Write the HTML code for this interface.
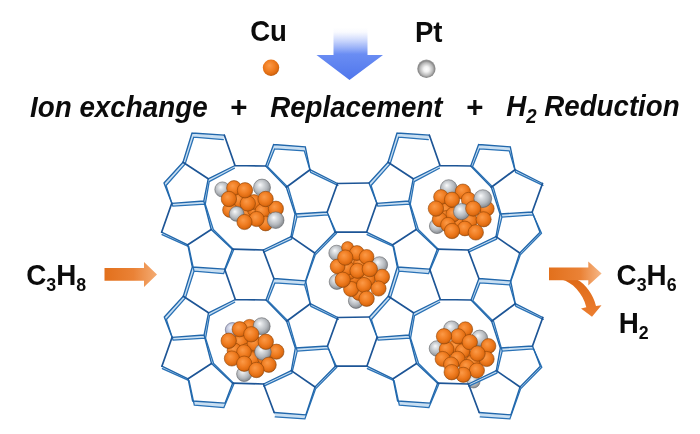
<!DOCTYPE html>
<html><head><meta charset="utf-8"><title>Cu-Pt zeolite scheme</title>
<style>
html,body{margin:0;padding:0;background:#fff;}
#wrap{position:relative;width:700px;height:434px;overflow:hidden;background:#fff;font-family:"Liberation Sans",Arial,sans-serif;color:#0a0a0a;}
svg{position:absolute;left:0;top:0;filter:blur(0.45px);}
.t{position:absolute;white-space:nowrap;font-weight:bold;line-height:1;margin:0;}
.i{font-style:italic;}
sub{font-size:0.65em;vertical-align:baseline;position:relative;top:0.28em;line-height:0;}
</style></head><body>
<div id="wrap">
<svg width="700" height="434" viewBox="0 0 700 434">
<defs>
<radialGradient id="go" cx="0.45" cy="0.42" r="0.6" fx="0.4" fy="0.36">
<stop offset="0" stop-color="#fb9a48"/><stop offset="0.5" stop-color="#f17f24"/><stop offset="0.8" stop-color="#e16d12"/><stop offset="0.93" stop-color="#c9600e"/><stop offset="1" stop-color="#a8520e"/>
</radialGradient>
<radialGradient id="gg" cx="0.45" cy="0.42" r="0.6" fx="0.38" fy="0.34">
<stop offset="0" stop-color="#fafafb"/><stop offset="0.25" stop-color="#dcdfe2"/><stop offset="0.65" stop-color="#b4b8bd"/><stop offset="0.92" stop-color="#8c9095"/><stop offset="1" stop-color="#6e7277"/>
</radialGradient>
<radialGradient id="gb" cx="0.45" cy="0.42" r="0.6" fx="0.38" fy="0.34">
<stop offset="0" stop-color="#eef0fa"/><stop offset="0.5" stop-color="#c4c8dc"/><stop offset="1" stop-color="#8488a8"/>
</radialGradient>
<radialGradient id="gp" cx="0.5" cy="0.52" r="0.5">
<stop offset="0" stop-color="#ffffff"/><stop offset="0.3" stop-color="#f2f2f2"/><stop offset="0.7" stop-color="#b9b9b9"/><stop offset="0.9" stop-color="#8a8a8a"/><stop offset="1" stop-color="#9a9a9a"/>
</radialGradient>
<linearGradient id="ga" x1="0" y1="0" x2="0" y2="1">
<stop offset="0" stop-color="#8fa8fa" stop-opacity="0"/><stop offset="0.08" stop-color="#8fa8fa" stop-opacity="0.05"/><stop offset="0.5" stop-color="#6a8df3" stop-opacity="1"/><stop offset="1" stop-color="#4f76ec"/>
</linearGradient>
<linearGradient id="gl" x1="0" y1="0" x2="1" y2="0">
<stop offset="0" stop-color="#e2701c"/><stop offset="0.55" stop-color="#ea8236"/><stop offset="1" stop-color="#f4ac74"/>
</linearGradient>
<linearGradient id="gr" x1="0" y1="0" x2="1" y2="0">
<stop offset="0" stop-color="#e2701c"/><stop offset="0.6" stop-color="#ea8236"/><stop offset="1" stop-color="#f6b888"/>
</linearGradient>
<linearGradient id="gc" x1="0" y1="0" x2="0" y2="1">
<stop offset="0" stop-color="#df6a18"/><stop offset="1" stop-color="#ec7e30"/>
</linearGradient>
</defs>
<!-- blue down arrow -->
<path d="M333.5 28 H367.5 V55 H383 L349.5 80 L316.5 55 H333.5 Z" fill="url(#ga)"/>
<!-- legend balls -->
<circle cx="271" cy="67.7" r="8.2" fill="url(#go)"/>
<circle cx="426.4" cy="68.8" r="9.2" fill="url(#gp)"/>
<!-- left arrow -->
<path d="M104.5 268 H144 V262 L157 274.5 L144 287 V280.8 H104.5 Z" fill="url(#gl)"/>
<!-- right arrows -->
<path d="M561.5 279.5 C572 282 583 293 586.3 307.3 L581 308.5 L592 316.8 L601.5 305.3 L596 306 C593 294 586 284.5 577 279.5 Z" fill="url(#gc)"/>
<path d="M549 267.4 H588.3 V261.6 L601.6 273.4 L588.3 285.5 V280.2 H549 Z" fill="url(#gr)"/>
<!-- clusters -->
<circle cx="239.0" cy="200.5" r="7.4" fill="url(#go)" stroke="#8a4206" stroke-opacity="0.62" stroke-width="0.9"/>
<circle cx="247.5" cy="212.5" r="7.4" fill="url(#go)" stroke="#8a4206" stroke-opacity="0.62" stroke-width="0.9"/>
<circle cx="255.0" cy="210.0" r="7.4" fill="url(#go)" stroke="#8a4206" stroke-opacity="0.62" stroke-width="0.9"/>
<circle cx="230.0" cy="210.0" r="7.4" fill="url(#go)" stroke="#8a4206" stroke-opacity="0.62" stroke-width="0.9"/>
<circle cx="254.0" cy="202.0" r="7.4" fill="url(#go)" stroke="#8a4206" stroke-opacity="0.62" stroke-width="0.9"/>
<circle cx="262.4" cy="211.3" r="7.4" fill="url(#go)" stroke="#8a4206" stroke-opacity="0.62" stroke-width="0.9"/>
<circle cx="222.4" cy="189.5" r="7.6" fill="url(#gg)" stroke="#5c5e62" stroke-opacity="0.62" stroke-width="0.9"/>
<circle cx="234.0" cy="188.0" r="7.4" fill="url(#go)" stroke="#8a4206" stroke-opacity="0.62" stroke-width="0.9"/>
<circle cx="262.0" cy="187.6" r="8.5" fill="url(#gg)" stroke="#5c5e62" stroke-opacity="0.62" stroke-width="0.9"/>
<circle cx="275.9" cy="208.7" r="7.6" fill="url(#go)" stroke="#8a4206" stroke-opacity="0.62" stroke-width="0.9"/>
<circle cx="265.6" cy="223.5" r="7.4" fill="url(#go)" stroke="#8a4206" stroke-opacity="0.62" stroke-width="0.9"/>
<circle cx="247.8" cy="203.5" r="7.7" fill="url(#go)" stroke="#8a4206" stroke-opacity="0.62" stroke-width="0.9"/>
<circle cx="245.0" cy="190.3" r="7.7" fill="url(#go)" stroke="#8a4206" stroke-opacity="0.62" stroke-width="0.9"/>
<circle cx="228.9" cy="199.0" r="7.7" fill="url(#go)" stroke="#8a4206" stroke-opacity="0.62" stroke-width="0.9"/>
<circle cx="265.6" cy="199.0" r="7.7" fill="url(#go)" stroke="#8a4206" stroke-opacity="0.62" stroke-width="0.9"/>
<circle cx="236.6" cy="213.9" r="7.4" fill="url(#gg)" stroke="#5c5e62" stroke-opacity="0.62" stroke-width="0.9"/>
<circle cx="256.6" cy="219.0" r="7.6" fill="url(#go)" stroke="#8a4206" stroke-opacity="0.62" stroke-width="0.9"/>
<circle cx="244.5" cy="222.0" r="7.6" fill="url(#go)" stroke="#8a4206" stroke-opacity="0.62" stroke-width="0.9"/>
<circle cx="275.7" cy="220.2" r="8.3" fill="url(#gg)" stroke="#5c5e62" stroke-opacity="0.62" stroke-width="0.9"/>
<circle cx="445.5" cy="210.3" r="7.4" fill="url(#go)" stroke="#8a4206" stroke-opacity="0.62" stroke-width="0.9"/>
<circle cx="457.5" cy="221.0" r="7.4" fill="url(#go)" stroke="#8a4206" stroke-opacity="0.62" stroke-width="0.9"/>
<circle cx="446.0" cy="218.0" r="7.4" fill="url(#go)" stroke="#8a4206" stroke-opacity="0.62" stroke-width="0.9"/>
<circle cx="437.0" cy="226.0" r="7.6" fill="url(#gg)" stroke="#5c5e62" stroke-opacity="0.62" stroke-width="0.9"/>
<circle cx="453.3" cy="214.4" r="7.4" fill="url(#go)" stroke="#8a4206" stroke-opacity="0.62" stroke-width="0.9"/>
<circle cx="470.0" cy="220.8" r="7.4" fill="url(#go)" stroke="#8a4206" stroke-opacity="0.62" stroke-width="0.9"/>
<circle cx="486.8" cy="208.7" r="7.4" fill="url(#go)" stroke="#8a4206" stroke-opacity="0.62" stroke-width="0.9"/>
<circle cx="448.7" cy="188.0" r="8.3" fill="url(#gg)" stroke="#5c5e62" stroke-opacity="0.62" stroke-width="0.9"/>
<circle cx="462.9" cy="191.6" r="7.6" fill="url(#go)" stroke="#8a4206" stroke-opacity="0.62" stroke-width="0.9"/>
<circle cx="441.0" cy="197.0" r="7.4" fill="url(#go)" stroke="#8a4206" stroke-opacity="0.62" stroke-width="0.9"/>
<circle cx="468.7" cy="199.7" r="7.4" fill="url(#go)" stroke="#8a4206" stroke-opacity="0.62" stroke-width="0.9"/>
<circle cx="482.8" cy="198.6" r="8.9" fill="url(#gg)" stroke="#5c5e62" stroke-opacity="0.62" stroke-width="0.9"/>
<circle cx="452.0" cy="199.7" r="7.6" fill="url(#go)" stroke="#8a4206" stroke-opacity="0.62" stroke-width="0.9"/>
<circle cx="439.7" cy="219.5" r="7.4" fill="url(#go)" stroke="#8a4206" stroke-opacity="0.62" stroke-width="0.9"/>
<circle cx="448.0" cy="224.7" r="7.4" fill="url(#go)" stroke="#8a4206" stroke-opacity="0.62" stroke-width="0.9"/>
<circle cx="464.9" cy="228.5" r="7.4" fill="url(#go)" stroke="#8a4206" stroke-opacity="0.62" stroke-width="0.9"/>
<circle cx="483.6" cy="219.3" r="7.6" fill="url(#go)" stroke="#8a4206" stroke-opacity="0.62" stroke-width="0.9"/>
<circle cx="461.6" cy="211.6" r="8.1" fill="url(#gg)" stroke="#5c5e62" stroke-opacity="0.62" stroke-width="0.9"/>
<circle cx="473.2" cy="208.6" r="7.6" fill="url(#go)" stroke="#8a4206" stroke-opacity="0.62" stroke-width="0.9"/>
<circle cx="435.9" cy="208.6" r="7.7" fill="url(#go)" stroke="#8a4206" stroke-opacity="0.62" stroke-width="0.9"/>
<circle cx="452.0" cy="231.0" r="7.7" fill="url(#go)" stroke="#8a4206" stroke-opacity="0.62" stroke-width="0.9"/>
<circle cx="475.8" cy="232.4" r="7.7" fill="url(#go)" stroke="#8a4206" stroke-opacity="0.62" stroke-width="0.9"/>
<circle cx="336.6" cy="253.0" r="7.8" fill="url(#gg)" stroke="#5c5e62" stroke-opacity="0.62" stroke-width="0.9"/>
<circle cx="347.6" cy="247.6" r="6.0" fill="url(#go)" stroke="#8a4206" stroke-opacity="0.62" stroke-width="0.9"/>
<circle cx="336.8" cy="281.8" r="7.6" fill="url(#gg)" stroke="#5c5e62" stroke-opacity="0.62" stroke-width="0.9"/>
<circle cx="356.0" cy="300.8" r="7.6" fill="url(#gg)" stroke="#5c5e62" stroke-opacity="0.62" stroke-width="0.9"/>
<circle cx="353.7" cy="276.8" r="7.4" fill="url(#go)" stroke="#8a4206" stroke-opacity="0.62" stroke-width="0.9"/>
<circle cx="349.5" cy="272.0" r="7.4" fill="url(#go)" stroke="#8a4206" stroke-opacity="0.62" stroke-width="0.9"/>
<circle cx="353.0" cy="262.0" r="7.4" fill="url(#go)" stroke="#8a4206" stroke-opacity="0.62" stroke-width="0.9"/>
<circle cx="361.0" cy="263.0" r="7.4" fill="url(#go)" stroke="#8a4206" stroke-opacity="0.62" stroke-width="0.9"/>
<circle cx="368.0" cy="279.0" r="7.4" fill="url(#go)" stroke="#8a4206" stroke-opacity="0.62" stroke-width="0.9"/>
<circle cx="359.0" cy="293.0" r="7.4" fill="url(#go)" stroke="#8a4206" stroke-opacity="0.62" stroke-width="0.9"/>
<circle cx="347.0" cy="268.0" r="7.4" fill="url(#go)" stroke="#8a4206" stroke-opacity="0.62" stroke-width="0.9"/>
<circle cx="379.5" cy="264.8" r="8.1" fill="url(#gg)" stroke="#5c5e62" stroke-opacity="0.62" stroke-width="0.9"/>
<circle cx="356.9" cy="253.0" r="7.4" fill="url(#go)" stroke="#8a4206" stroke-opacity="0.62" stroke-width="0.9"/>
<circle cx="366.6" cy="256.9" r="7.4" fill="url(#go)" stroke="#8a4206" stroke-opacity="0.62" stroke-width="0.9"/>
<circle cx="337.6" cy="266.5" r="7.4" fill="url(#go)" stroke="#8a4206" stroke-opacity="0.62" stroke-width="0.9"/>
<circle cx="357.5" cy="270.8" r="7.6" fill="url(#go)" stroke="#8a4206" stroke-opacity="0.62" stroke-width="0.9"/>
<circle cx="382.0" cy="276.8" r="7.6" fill="url(#go)" stroke="#8a4206" stroke-opacity="0.62" stroke-width="0.9"/>
<circle cx="351.1" cy="289.0" r="7.6" fill="url(#go)" stroke="#8a4206" stroke-opacity="0.62" stroke-width="0.9"/>
<circle cx="364.0" cy="285.0" r="7.6" fill="url(#go)" stroke="#8a4206" stroke-opacity="0.62" stroke-width="0.9"/>
<circle cx="378.5" cy="288.5" r="7.6" fill="url(#go)" stroke="#8a4206" stroke-opacity="0.62" stroke-width="0.9"/>
<circle cx="345.3" cy="257.6" r="7.7" fill="url(#go)" stroke="#8a4206" stroke-opacity="0.62" stroke-width="0.9"/>
<circle cx="369.8" cy="269.1" r="7.7" fill="url(#go)" stroke="#8a4206" stroke-opacity="0.62" stroke-width="0.9"/>
<circle cx="342.7" cy="279.8" r="7.7" fill="url(#go)" stroke="#8a4206" stroke-opacity="0.62" stroke-width="0.9"/>
<circle cx="366.6" cy="298.7" r="7.7" fill="url(#go)" stroke="#8a4206" stroke-opacity="0.62" stroke-width="0.9"/>
<circle cx="232.5" cy="329.8" r="7.2" fill="url(#gb)" stroke="#55597a" stroke-opacity="0.62" stroke-width="0.9"/>
<circle cx="244.2" cy="374.0" r="7.6" fill="url(#gg)" stroke="#5c5e62" stroke-opacity="0.62" stroke-width="0.9"/>
<circle cx="249.6" cy="326.8" r="7.4" fill="url(#go)" stroke="#8a4206" stroke-opacity="0.62" stroke-width="0.9"/>
<circle cx="240.3" cy="342.0" r="7.4" fill="url(#go)" stroke="#8a4206" stroke-opacity="0.62" stroke-width="0.9"/>
<circle cx="247.4" cy="350.7" r="7.4" fill="url(#go)" stroke="#8a4206" stroke-opacity="0.62" stroke-width="0.9"/>
<circle cx="234.5" cy="350.5" r="7.4" fill="url(#go)" stroke="#8a4206" stroke-opacity="0.62" stroke-width="0.9"/>
<circle cx="254.5" cy="343.5" r="7.4" fill="url(#go)" stroke="#8a4206" stroke-opacity="0.62" stroke-width="0.9"/>
<circle cx="252.0" cy="359.0" r="7.4" fill="url(#go)" stroke="#8a4206" stroke-opacity="0.62" stroke-width="0.9"/>
<circle cx="265.0" cy="358.0" r="7.4" fill="url(#go)" stroke="#8a4206" stroke-opacity="0.62" stroke-width="0.9"/>
<circle cx="244.0" cy="352.0" r="7.4" fill="url(#go)" stroke="#8a4206" stroke-opacity="0.62" stroke-width="0.9"/>
<circle cx="261.7" cy="326.2" r="8.5" fill="url(#gg)" stroke="#5c5e62" stroke-opacity="0.62" stroke-width="0.9"/>
<circle cx="239.7" cy="329.2" r="7.6" fill="url(#go)" stroke="#8a4206" stroke-opacity="0.62" stroke-width="0.9"/>
<circle cx="276.4" cy="351.7" r="7.6" fill="url(#go)" stroke="#8a4206" stroke-opacity="0.62" stroke-width="0.9"/>
<circle cx="262.9" cy="352.0" r="8.3" fill="url(#gg)" stroke="#5c5e62" stroke-opacity="0.62" stroke-width="0.9"/>
<circle cx="251.3" cy="334.3" r="7.7" fill="url(#go)" stroke="#8a4206" stroke-opacity="0.62" stroke-width="0.9"/>
<circle cx="228.7" cy="340.8" r="7.7" fill="url(#go)" stroke="#8a4206" stroke-opacity="0.62" stroke-width="0.9"/>
<circle cx="265.8" cy="341.8" r="7.7" fill="url(#go)" stroke="#8a4206" stroke-opacity="0.62" stroke-width="0.9"/>
<circle cx="231.9" cy="358.5" r="7.6" fill="url(#go)" stroke="#8a4206" stroke-opacity="0.62" stroke-width="0.9"/>
<circle cx="268.7" cy="364.8" r="7.6" fill="url(#go)" stroke="#8a4206" stroke-opacity="0.62" stroke-width="0.9"/>
<circle cx="244.2" cy="363.7" r="7.7" fill="url(#go)" stroke="#8a4206" stroke-opacity="0.62" stroke-width="0.9"/>
<circle cx="256.4" cy="370.0" r="7.7" fill="url(#go)" stroke="#8a4206" stroke-opacity="0.62" stroke-width="0.9"/>
<circle cx="473.5" cy="381.5" r="6.5" fill="url(#gg)" stroke="#5c5e62" stroke-opacity="0.62" stroke-width="0.9"/>
<circle cx="451.7" cy="329.0" r="8.1" fill="url(#gg)" stroke="#5c5e62" stroke-opacity="0.62" stroke-width="0.9"/>
<circle cx="479.6" cy="338.2" r="8.1" fill="url(#gg)" stroke="#5c5e62" stroke-opacity="0.62" stroke-width="0.9"/>
<circle cx="437.0" cy="348.5" r="7.8" fill="url(#gg)" stroke="#5c5e62" stroke-opacity="0.62" stroke-width="0.9"/>
<circle cx="456.0" cy="346.5" r="7.4" fill="url(#go)" stroke="#8a4206" stroke-opacity="0.62" stroke-width="0.9"/>
<circle cx="468.0" cy="358.5" r="7.4" fill="url(#go)" stroke="#8a4206" stroke-opacity="0.62" stroke-width="0.9"/>
<circle cx="473.0" cy="362.0" r="7.4" fill="url(#go)" stroke="#8a4206" stroke-opacity="0.62" stroke-width="0.9"/>
<circle cx="465.3" cy="329.2" r="7.4" fill="url(#go)" stroke="#8a4206" stroke-opacity="0.62" stroke-width="0.9"/>
<circle cx="458.2" cy="336.3" r="7.6" fill="url(#go)" stroke="#8a4206" stroke-opacity="0.62" stroke-width="0.9"/>
<circle cx="488.5" cy="346.0" r="7.4" fill="url(#go)" stroke="#8a4206" stroke-opacity="0.62" stroke-width="0.9"/>
<circle cx="446.6" cy="349.2" r="7.4" fill="url(#go)" stroke="#8a4206" stroke-opacity="0.62" stroke-width="0.9"/>
<circle cx="462.7" cy="351.1" r="7.4" fill="url(#go)" stroke="#8a4206" stroke-opacity="0.62" stroke-width="0.9"/>
<circle cx="444.0" cy="336.3" r="7.7" fill="url(#go)" stroke="#8a4206" stroke-opacity="0.62" stroke-width="0.9"/>
<circle cx="469.8" cy="342.1" r="7.7" fill="url(#go)" stroke="#8a4206" stroke-opacity="0.62" stroke-width="0.9"/>
<circle cx="486.6" cy="359.0" r="7.6" fill="url(#go)" stroke="#8a4206" stroke-opacity="0.62" stroke-width="0.9"/>
<circle cx="442.7" cy="359.0" r="7.6" fill="url(#go)" stroke="#8a4206" stroke-opacity="0.62" stroke-width="0.9"/>
<circle cx="457.5" cy="358.8" r="7.6" fill="url(#go)" stroke="#8a4206" stroke-opacity="0.62" stroke-width="0.9"/>
<circle cx="477.5" cy="353.6" r="7.7" fill="url(#go)" stroke="#8a4206" stroke-opacity="0.62" stroke-width="0.9"/>
<circle cx="451.1" cy="364.5" r="7.6" fill="url(#go)" stroke="#8a4206" stroke-opacity="0.62" stroke-width="0.9"/>
<circle cx="467.0" cy="367.0" r="7.6" fill="url(#go)" stroke="#8a4206" stroke-opacity="0.62" stroke-width="0.9"/>
<circle cx="476.9" cy="370.5" r="7.6" fill="url(#go)" stroke="#8a4206" stroke-opacity="0.62" stroke-width="0.9"/>
<circle cx="463.3" cy="374.8" r="7.6" fill="url(#go)" stroke="#8a4206" stroke-opacity="0.62" stroke-width="0.9"/>
<circle cx="451.7" cy="372.2" r="7.7" fill="url(#go)" stroke="#8a4206" stroke-opacity="0.62" stroke-width="0.9"/>
<!-- framework -->
<path d="M192.0 133.0L224.4 135.2L223.3 139.6L193.7 137.2ZM235.0 165.5L208.2 178.8L209.2 181.6L234.4 168.2ZM183.0 162.2L192.0 133.0L193.7 137.2L185.1 164.1ZM208.2 178.8L203.8 201.0L205.3 204.1L209.2 181.6ZM203.8 201.0L171.8 203.3L172.8 206.1L205.3 204.1ZM171.8 203.3L164.0 183.0L166.1 185.5L172.8 206.1ZM164.0 183.0L183.0 162.2L185.1 164.1L166.1 185.5ZM265.7 166.0L273.6 144.5L274.6 148.9L267.6 166.6ZM273.6 144.5L305.3 146.8L304.3 150.9L274.6 148.9ZM305.3 146.8L310.0 169.7L310.6 172.4L304.3 150.9ZM286.3 187.2L265.7 166.0L267.6 166.6L288.4 187.6ZM310.0 169.7L337.5 183.5L337.9 185.4L310.6 172.4ZM286.3 187.2L295.0 214.0L296.9 217.1L288.4 187.6ZM295.0 214.0L327.2 212.0L328.2 214.8L296.9 217.1ZM327.2 212.0L335.0 232.2L336.5 233.2L328.2 214.8ZM335.0 232.2L314.7 253.0L315.3 254.9L336.5 233.2ZM291.0 236.6L295.0 214.0L296.9 217.1L291.6 239.1ZM203.8 201.0L211.2 229.5L213.3 229.5L205.3 204.1ZM187.8 244.8L161.6 232.2L162.0 234.7L188.8 246.7ZM211.2 229.5L232.3 249.2L233.8 249.6L213.3 229.5ZM263.2 250.0L291.0 236.6L291.6 239.1L263.6 252.2ZM314.7 253.0L305.6 280.8L304.6 284.9L315.3 254.9ZM187.8 244.8L192.3 267.0L194.0 271.2L188.8 246.7ZM232.3 249.2L224.7 269.2L223.6 273.6L233.8 249.6ZM192.3 267.0L224.7 269.2L223.6 273.6L194.0 271.2ZM235.3 299.5L208.5 312.8L209.5 315.6L234.7 302.2ZM183.3 296.2L192.3 267.0L194.0 271.2L185.4 298.1ZM208.5 312.8L204.1 335.0L205.6 338.1L209.5 315.6ZM204.1 335.0L172.1 337.3L173.1 340.1L205.6 338.1ZM172.1 337.3L164.3 317.0L166.4 319.5L173.1 340.1ZM164.3 317.0L183.3 296.2L185.4 298.1L166.4 319.5ZM266.0 300.0L273.9 278.5L274.9 282.9L267.9 300.6ZM273.9 278.5L305.6 280.8L304.6 284.9L274.9 282.9ZM305.6 280.8L310.3 303.7L310.9 306.4L304.6 284.9ZM286.6 321.2L266.0 300.0L267.9 300.6L288.7 321.6ZM310.3 303.7L337.8 317.5L338.2 319.4L310.9 306.4ZM286.6 321.2L295.3 348.0L297.2 351.1L288.7 321.6ZM295.3 348.0L327.5 346.0L328.5 348.8L297.2 351.1ZM327.5 346.0L335.3 366.2L336.8 367.2L328.5 348.8ZM335.3 366.2L315.0 387.0L315.6 388.9L336.8 367.2ZM291.3 370.6L295.3 348.0L297.2 351.1L291.9 373.1ZM204.1 335.0L211.5 363.5L213.6 363.5L205.6 338.1ZM188.1 378.8L161.9 366.2L162.3 368.7L189.1 380.7ZM211.5 363.5L232.6 383.2L234.1 383.6L213.6 363.5ZM263.5 384.0L291.3 370.6L291.9 373.1L263.9 386.2ZM315.0 387.0L305.9 414.8L304.9 418.9L315.6 388.9ZM188.1 378.8L192.6 401.0L194.3 405.2L189.1 380.7ZM232.6 383.2L225.0 403.2L223.9 407.6L234.1 383.6ZM192.6 401.0L225.0 403.2L223.9 407.6L194.3 405.2ZM274.2 412.5L305.9 414.8L304.9 418.9L275.2 416.9ZM397.0 133.0L429.4 135.2L428.3 139.6L398.7 137.2ZM440.0 165.5L413.2 178.8L414.2 181.6L439.4 168.2ZM388.0 162.2L397.0 133.0L398.7 137.2L390.1 164.1ZM413.2 178.8L408.8 201.0L410.3 204.1L414.2 181.6ZM408.8 201.0L376.8 203.3L377.8 206.1L410.3 204.1ZM376.8 203.3L369.0 183.0L371.1 185.5L377.8 206.1ZM369.0 183.0L388.0 162.2L390.1 164.1L371.1 185.5ZM470.7 166.0L478.6 144.5L479.6 148.9L472.6 166.6ZM478.6 144.5L510.3 146.8L509.3 150.9L479.6 148.9ZM510.3 146.8L515.0 169.7L515.6 172.4L509.3 150.9ZM491.3 187.2L470.7 166.0L472.6 166.6L493.4 187.6ZM515.0 169.7L542.5 183.5L542.9 185.4L515.6 172.4ZM491.3 187.2L500.0 214.0L501.9 217.1L493.4 187.6ZM500.0 214.0L532.2 212.0L533.2 214.8L501.9 217.1ZM532.2 212.0L540.0 232.2L541.5 233.2L533.2 214.8ZM540.0 232.2L519.7 253.0L520.3 254.9L541.5 233.2ZM496.0 236.6L500.0 214.0L501.9 217.1L496.6 239.1ZM408.8 201.0L416.2 229.5L418.3 229.5L410.3 204.1ZM392.8 244.8L366.6 232.2L367.0 234.7L393.8 246.7ZM416.2 229.5L437.3 249.2L438.8 249.6L418.3 229.5ZM468.2 250.0L496.0 236.6L496.6 239.1L468.6 252.2ZM519.7 253.0L510.6 280.8L509.6 284.9L520.3 254.9ZM392.8 244.8L397.3 267.0L399.0 271.2L393.8 246.7ZM437.3 249.2L429.7 269.2L428.6 273.6L438.8 249.6ZM397.3 267.0L429.7 269.2L428.6 273.6L399.0 271.2ZM440.3 299.5L413.5 312.8L414.5 315.6L439.7 302.2ZM388.3 296.2L397.3 267.0L399.0 271.2L390.4 298.1ZM413.5 312.8L409.1 335.0L410.6 338.1L414.5 315.6ZM409.1 335.0L377.1 337.3L378.1 340.1L410.6 338.1ZM377.1 337.3L369.3 317.0L371.4 319.5L378.1 340.1ZM369.3 317.0L388.3 296.2L390.4 298.1L371.4 319.5ZM471.0 300.0L478.9 278.5L479.9 282.9L472.9 300.6ZM478.9 278.5L510.6 280.8L509.6 284.9L479.9 282.9ZM510.6 280.8L515.3 303.7L515.9 306.4L509.6 284.9ZM491.6 321.2L471.0 300.0L472.9 300.6L493.7 321.6ZM515.3 303.7L542.8 317.5L543.2 319.4L515.9 306.4ZM491.6 321.2L500.3 348.0L502.2 351.1L493.7 321.6ZM500.3 348.0L532.5 346.0L533.5 348.8L502.2 351.1ZM532.5 346.0L540.3 366.2L541.8 367.2L533.5 348.8ZM540.3 366.2L520.0 387.0L520.6 388.9L541.8 367.2ZM496.3 370.6L500.3 348.0L502.2 351.1L496.9 373.1ZM409.1 335.0L416.5 363.5L418.6 363.5L410.6 338.1ZM393.1 378.8L366.9 366.2L367.3 368.7L394.1 380.7ZM416.5 363.5L437.6 383.2L439.1 383.6L418.6 363.5ZM468.5 384.0L496.3 370.6L496.9 373.1L468.9 386.2ZM520.0 387.0L510.9 414.8L509.9 418.9L520.6 388.9ZM393.1 378.8L397.6 401.0L399.3 405.2L394.1 380.7ZM437.6 383.2L430.0 403.2L428.9 407.6L439.1 383.6ZM397.6 401.0L430.0 403.2L428.9 407.6L399.3 405.2ZM479.2 412.5L510.9 414.8L509.9 418.9L480.2 416.9Z" fill="#c9dff2" stroke="none"/>
<g fill="none" stroke-linecap="round">
<path d="M193.7 137.2L223.3 139.6M234.4 168.2L209.2 181.6M185.1 164.1L193.7 137.2M209.2 181.6L205.3 204.1M205.3 204.1L172.8 206.1M172.8 206.1L166.1 185.5M166.1 185.5L185.1 164.1M267.6 166.6L274.6 148.9M274.6 148.9L304.3 150.9M304.3 150.9L310.6 172.4M288.4 187.6L267.6 166.6M310.6 172.4L337.9 185.4M288.4 187.6L296.9 217.1M296.9 217.1L328.2 214.8M328.2 214.8L336.5 233.2M336.5 233.2L315.3 254.9M291.6 239.1L296.9 217.1M205.3 204.1L213.3 229.5M188.8 246.7L162.0 234.7M213.3 229.5L233.8 249.6M263.6 252.2L291.6 239.1M315.3 254.9L304.6 284.9M188.8 246.7L194.0 271.2M233.8 249.6L223.6 273.6M194.0 271.2L223.6 273.6M234.7 302.2L209.5 315.6M185.4 298.1L194.0 271.2M209.5 315.6L205.6 338.1M205.6 338.1L173.1 340.1M173.1 340.1L166.4 319.5M166.4 319.5L185.4 298.1M267.9 300.6L274.9 282.9M274.9 282.9L304.6 284.9M304.6 284.9L310.9 306.4M288.7 321.6L267.9 300.6M310.9 306.4L338.2 319.4M288.7 321.6L297.2 351.1M297.2 351.1L328.5 348.8M328.5 348.8L336.8 367.2M336.8 367.2L315.6 388.9M291.9 373.1L297.2 351.1M205.6 338.1L213.6 363.5M189.1 380.7L162.3 368.7M213.6 363.5L234.1 383.6M263.9 386.2L291.9 373.1M315.6 388.9L304.9 418.9M189.1 380.7L194.3 405.2M234.1 383.6L223.9 407.6M194.3 405.2L223.9 407.6M275.2 416.9L304.9 418.9M398.7 137.2L428.3 139.6M439.4 168.2L414.2 181.6M390.1 164.1L398.7 137.2M414.2 181.6L410.3 204.1M410.3 204.1L377.8 206.1M377.8 206.1L371.1 185.5M371.1 185.5L390.1 164.1M472.6 166.6L479.6 148.9M479.6 148.9L509.3 150.9M509.3 150.9L515.6 172.4M493.4 187.6L472.6 166.6M515.6 172.4L542.9 185.4M493.4 187.6L501.9 217.1M501.9 217.1L533.2 214.8M533.2 214.8L541.5 233.2M541.5 233.2L520.3 254.9M496.6 239.1L501.9 217.1M410.3 204.1L418.3 229.5M393.8 246.7L367.0 234.7M418.3 229.5L438.8 249.6M468.6 252.2L496.6 239.1M520.3 254.9L509.6 284.9M393.8 246.7L399.0 271.2M438.8 249.6L428.6 273.6M399.0 271.2L428.6 273.6M439.7 302.2L414.5 315.6M390.4 298.1L399.0 271.2M414.5 315.6L410.6 338.1M410.6 338.1L378.1 340.1M378.1 340.1L371.4 319.5M371.4 319.5L390.4 298.1M472.9 300.6L479.9 282.9M479.9 282.9L509.6 284.9M509.6 284.9L515.9 306.4M493.7 321.6L472.9 300.6M515.9 306.4L543.2 319.4M493.7 321.6L502.2 351.1M502.2 351.1L533.5 348.8M533.5 348.8L541.8 367.2M541.8 367.2L520.6 388.9M496.9 373.1L502.2 351.1M410.6 338.1L418.6 363.5M394.1 380.7L367.3 368.7M418.6 363.5L439.1 383.6M468.9 386.2L496.9 373.1M520.6 388.9L509.9 418.9M394.1 380.7L399.3 405.2M439.1 383.6L428.9 407.6M399.3 405.2L428.9 407.6M480.2 416.9L509.9 418.9" stroke="#2a72b6" stroke-width="1.3"/>
<path d="M192.0 133.0L224.4 135.2M235.0 165.5L208.2 178.8M183.0 162.2L192.0 133.0M208.2 178.8L203.8 201.0M203.8 201.0L171.8 203.3M171.8 203.3L164.0 183.0M164.0 183.0L183.0 162.2M265.7 166.0L273.6 144.5M273.6 144.5L305.3 146.8M305.3 146.8L310.0 169.7M286.3 187.2L265.7 166.0M310.0 169.7L337.5 183.5M286.3 187.2L295.0 214.0M295.0 214.0L327.2 212.0M327.2 212.0L335.0 232.2M335.0 232.2L314.7 253.0M291.0 236.6L295.0 214.0M203.8 201.0L211.2 229.5M187.8 244.8L161.6 232.2M211.2 229.5L232.3 249.2M263.2 250.0L291.0 236.6M314.7 253.0L305.6 280.8M187.8 244.8L192.3 267.0M232.3 249.2L224.7 269.2M192.3 267.0L224.7 269.2M235.3 299.5L208.5 312.8M183.3 296.2L192.3 267.0M208.5 312.8L204.1 335.0M204.1 335.0L172.1 337.3M172.1 337.3L164.3 317.0M164.3 317.0L183.3 296.2M266.0 300.0L273.9 278.5M273.9 278.5L305.6 280.8M305.6 280.8L310.3 303.7M286.6 321.2L266.0 300.0M310.3 303.7L337.8 317.5M286.6 321.2L295.3 348.0M295.3 348.0L327.5 346.0M327.5 346.0L335.3 366.2M335.3 366.2L315.0 387.0M291.3 370.6L295.3 348.0M204.1 335.0L211.5 363.5M188.1 378.8L161.9 366.2M211.5 363.5L232.6 383.2M263.5 384.0L291.3 370.6M315.0 387.0L305.9 414.8M188.1 378.8L192.6 401.0M232.6 383.2L225.0 403.2M192.6 401.0L225.0 403.2M274.2 412.5L305.9 414.8M397.0 133.0L429.4 135.2M440.0 165.5L413.2 178.8M388.0 162.2L397.0 133.0M413.2 178.8L408.8 201.0M408.8 201.0L376.8 203.3M376.8 203.3L369.0 183.0M369.0 183.0L388.0 162.2M470.7 166.0L478.6 144.5M478.6 144.5L510.3 146.8M510.3 146.8L515.0 169.7M491.3 187.2L470.7 166.0M515.0 169.7L542.5 183.5M491.3 187.2L500.0 214.0M500.0 214.0L532.2 212.0M532.2 212.0L540.0 232.2M540.0 232.2L519.7 253.0M496.0 236.6L500.0 214.0M408.8 201.0L416.2 229.5M392.8 244.8L366.6 232.2M416.2 229.5L437.3 249.2M468.2 250.0L496.0 236.6M519.7 253.0L510.6 280.8M392.8 244.8L397.3 267.0M437.3 249.2L429.7 269.2M397.3 267.0L429.7 269.2M440.3 299.5L413.5 312.8M388.3 296.2L397.3 267.0M413.5 312.8L409.1 335.0M409.1 335.0L377.1 337.3M377.1 337.3L369.3 317.0M369.3 317.0L388.3 296.2M471.0 300.0L478.9 278.5M478.9 278.5L510.6 280.8M510.6 280.8L515.3 303.7M491.6 321.2L471.0 300.0M515.3 303.7L542.8 317.5M491.6 321.2L500.3 348.0M500.3 348.0L532.5 346.0M532.5 346.0L540.3 366.2M540.3 366.2L520.0 387.0M496.3 370.6L500.3 348.0M409.1 335.0L416.5 363.5M393.1 378.8L366.9 366.2M416.5 363.5L437.6 383.2M468.5 384.0L496.3 370.6M520.0 387.0L510.9 414.8M393.1 378.8L397.6 401.0M437.6 383.2L430.0 403.2M397.6 401.0L430.0 403.2M479.2 412.5L510.9 414.8" stroke="#2167ab" stroke-width="1.35"/>
<path d="M224.4 135.2L235.0 165.5M208.2 178.8L183.0 162.2M235.0 165.5L265.7 166.0M310.0 169.7L286.3 187.2M337.5 183.5L369.0 183.0M337.5 183.5L327.2 212.0M314.7 253.0L291.0 236.6M335.0 232.2L366.6 232.2M161.6 232.2L171.8 203.3M211.2 229.5L187.8 244.8M232.3 249.2L263.2 250.0M263.2 250.0L273.9 278.5M224.7 269.2L235.3 299.5M208.5 312.8L183.3 296.2M235.3 299.5L266.0 300.0M310.3 303.7L286.6 321.2M337.8 317.5L369.3 317.0M337.8 317.5L327.5 346.0M315.0 387.0L291.3 370.6M335.3 366.2L366.9 366.2M161.9 366.2L172.1 337.3M211.5 363.5L188.1 378.8M232.6 383.2L263.5 384.0M263.5 384.0L274.2 412.5M429.4 135.2L440.0 165.5M413.2 178.8L388.0 162.2M440.0 165.5L470.7 166.0M515.0 169.7L491.3 187.2M542.5 183.5L532.2 212.0M519.7 253.0L496.0 236.6M366.6 232.2L376.8 203.3M416.2 229.5L392.8 244.8M437.3 249.2L468.2 250.0M468.2 250.0L478.9 278.5M429.7 269.2L440.3 299.5M413.5 312.8L388.3 296.2M440.3 299.5L471.0 300.0M515.3 303.7L491.6 321.2M542.8 317.5L532.5 346.0M520.0 387.0L496.3 370.6M366.9 366.2L377.1 337.3M416.5 363.5L393.1 378.8M437.6 383.2L468.5 384.0M468.5 384.0L479.2 412.5" stroke="#1d5596" stroke-width="1.7"/>
</g>
<g font-family="'Liberation Sans', Arial, sans-serif" font-weight="bold" fill="#0b0b0b">
<text transform="translate(250.2,41) scale(1,1.04)" font-size="27.6">Cu</text>
<text transform="translate(414.9,42.3) scale(1,1.04)" font-size="27.6">Pt</text>
<text transform="translate(30.0,117.0) scale(1,1.04)" font-size="27.8" font-style="italic">Ion exchange</text>
<text transform="translate(238.8,117.4) scale(1,1.0)" font-size="29.5" text-anchor="middle">+</text>
<text transform="translate(270.2,116.9) scale(1,1.04)" font-size="27.7" font-style="italic">Replacement</text>
<text transform="translate(474.8,117.4) scale(1,1.0)" font-size="29.5" text-anchor="middle">+</text>
<text transform="translate(506.2,116.0) scale(1,1.04)" font-size="27.7" font-style="italic">H<tspan font-size="18.6" dy="6.4">2</tspan><tspan dy="-6.4"> Reduction</tspan></text>
<text transform="translate(26.2,284.7) scale(1,1.04)" font-size="27.8">C<tspan font-size="17.8" dy="5.8">3</tspan><tspan dy="-5.8">H</tspan><tspan font-size="17.8" dy="5.8">8</tspan></text>
<text transform="translate(616.6,285.0) scale(1,1.04)" font-size="27.8">C<tspan font-size="17.8" dy="5.8">3</tspan><tspan dy="-5.8">H</tspan><tspan font-size="17.8" dy="5.8">6</tspan></text>
<text transform="translate(618.7,333.2) scale(1,1.04)" font-size="27.8">H<tspan font-size="17.8" dy="5.8">2</tspan></text>
</g>
</svg>
</div>
</body></html>
